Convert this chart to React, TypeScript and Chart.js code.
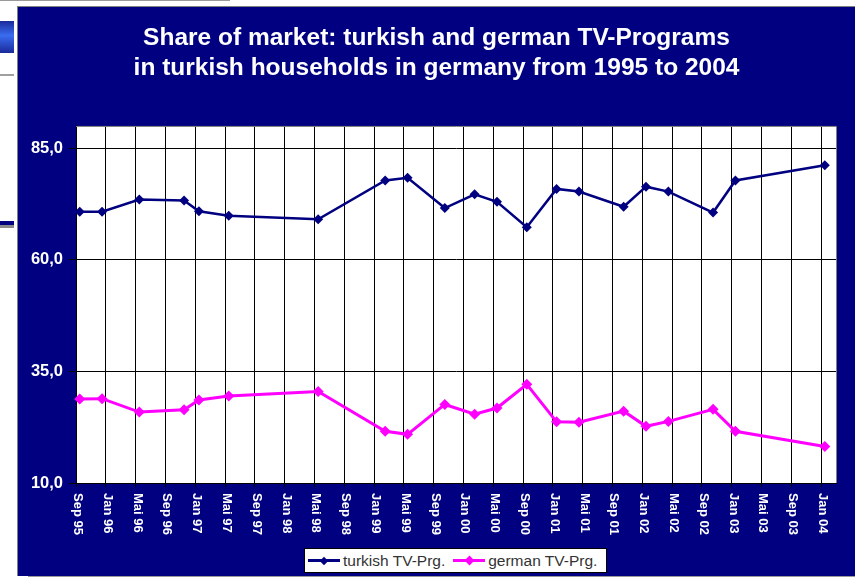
import React, { useEffect, useRef } from "react";
import { Chart, registerables } from "chart.js";

Chart.register(...registerables);

// ---- Data ----
const observationMonths = [
  "1995-09", "1995-12", "1996-05", "1996-11", "1997-01", "1997-05", "1998-05",
  "1999-02", "1999-05", "1999-10", "2000-02", "2000-05", "2000-09", "2001-01",
  "2001-04", "2001-10", "2002-01", "2002-04", "2002-10", "2003-01", "2004-01",
];
const turkishShare = [
  70.8, 70.8, 73.5, 73.3, 70.9, 69.9, 69.1, 77.8, 78.4, 71.6, 74.7, 73.0, 67.3,
  75.9, 75.3, 71.9, 76.4, 75.3, 70.6, 77.8, 81.2,
];
const germanShare = [
  28.8, 28.9, 25.9, 26.4, 28.6, 29.5, 30.5, 21.6, 20.9, 27.6, 25.4, 26.8, 32.1,
  23.7, 23.6, 26.1, 22.7, 23.8, 26.5, 21.6, 18.2,
];
const xTickLabels = [
  "Sep 95", "Jan 96", "Mai 96", "Sep 96", "Jan 97", "Mai 97", "Sep 97", "Jan 98",
  "Mai 98", "Sep 98", "Jan 99", "Mai 99", "Sep 99", "Jan 00", "Mai 00", "Sep 00",
  "Jan 01", "Mai 01", "Sep 01", "Jan 02", "Mai 02", "Sep 02", "Jan 03", "Mai 03",
  "Sep 03", "Jan 04",
];
const yTickValues = [10, 35, 60, 85];
const seriesNames = ["turkish TV-Prg.", "german TV-Prg."];
const titleLines = [
  "Share of market: turkish and german TV-Programs",
  "in turkish households in germany from 1995 to 2004",
];

// months since Sep 1995, placed at mid-month
const toMonthIndex = (s: string) => {
  const [y, m] = s.split("-").map(Number);
  return (y - 1995) * 12 + (m - 9) + 0.5;
};
const MONTHS_PER_TICK = 4;

const NAVY = "#000080";
const MAGENTA = "#FF00FF";
const FONT = "'Liberation Sans', Arial, sans-serif";

const plotBgPlugin = {
  id: "plotBg",
  beforeDraw(chart: any) {
    const { ctx, chartArea } = chart;
    ctx.save();
    ctx.fillStyle = "#ffffff";
    ctx.fillRect(chartArea.left, chartArea.top, chartArea.right - chartArea.left, chartArea.bottom - chartArea.top);
    ctx.restore();
  },
  beforeDatasetsDraw(chart: any) {
    const { ctx, chartArea } = chart;
    ctx.save();
    ctx.strokeStyle = "#808080";
    ctx.lineWidth = 1;
    ctx.beginPath();
    ctx.moveTo(chartArea.left, chartArea.top + 0.5);
    ctx.lineTo(chartArea.right + 0.5, chartArea.top + 0.5);
    ctx.lineTo(chartArea.right + 0.5, chartArea.bottom);
    ctx.stroke();
    ctx.restore();
  },
};

const xLabelPlugin = {
  id: "xLabels",
  afterDraw(chart: any) {
    const { ctx, chartArea } = chart;
    const xs = chart.scales.x;
    ctx.save();
    ctx.font = `bold 13px ${FONT}`;
    ctx.fillStyle = "#ffffff";
    ctx.textAlign = "left";
    ctx.textBaseline = "middle";
    xTickLabels.forEach((lab, i) => {
      const x = xs.getPixelForValue(i * MONTHS_PER_TICK);
      ctx.save();
      ctx.translate(x + 1.5, chartArea.bottom + 10);
      ctx.rotate(Math.PI / 2);
      ctx.fillText(lab, 0, 0);
      ctx.restore();
    });
    ctx.restore();
  },
};

function ChartCanvas() {
  const ref = useRef<HTMLCanvasElement | null>(null);
  useEffect(() => {
    if (!ref.current) return;
    const xs = observationMonths.map(toMonthIndex);
    const chart = new Chart(ref.current, {
      type: "line",
      data: {
        datasets: [
          {
            label: seriesNames[0],
            data: xs.map((x, i) => ({ x, y: turkishShare[i] })),
            borderColor: NAVY,
            backgroundColor: NAVY,
            borderWidth: 2.5,
            pointStyle: "rectRot",
            pointRadius: 5,
            pointBorderWidth: 0,
            tension: 0,
            clip: false as any,
          },
          {
            label: seriesNames[1],
            data: xs.map((x, i) => ({ x, y: germanShare[i] })),
            borderColor: MAGENTA,
            backgroundColor: MAGENTA,
            borderWidth: 3,
            pointStyle: "rectRot",
            pointRadius: 5.5,
            pointBorderWidth: 0,
            tension: 0,
            clip: false as any,
          },
        ],
      },
      options: {
        animation: false,
        responsive: false,
        layout: { padding: 0 },
        plugins: {
          legend: { display: false },
          tooltip: { enabled: false },
          title: {
            display: true,
            text: titleLines,
            color: "#ffffff",
            font: { family: FONT, size: 24.5, weight: "bold", lineHeight: 1.224 },
            padding: { top: 16.5, bottom: 42.5 },
          },
        },
        scales: {
          x: {
            type: "linear",
            min: 0,
            max: 102,
            afterBuildTicks(scale: any) {
              scale.ticks = xTickLabels.map((_, i) => ({ value: i * MONTHS_PER_TICK }));
            },
            afterFit(scale: any) {
              scale.height = 93;
            },
            ticks: { display: false },
            grid: { color: "#000000", lineWidth: 1, drawTicks: true, tickLength: 4 },
            border: { color: "#000000", width: 1 },
          },
          y: {
            type: "linear",
            position: "left",
            min: 10,
            max: 90,
            afterBuildTicks(scale: any) {
              scale.ticks = yTickValues.map((v) => ({ value: v }));
            },
            afterFit(scale: any) {
              scale.width = 58;
            },
            ticks: {
              color: "#ffffff",
              font: { family: FONT, size: 16.5, weight: "bold" },
              padding: 6,
              callback: (v: any) => Number(v).toFixed(1).replace(".", ","),
            },
            grid: { color: "#000000", lineWidth: 1, drawTicks: true, tickLength: 7 },
            border: { color: "#000000", width: 1 },
          },
          yRightSpace: {
            type: "linear",
            position: "right",
            min: 0,
            max: 1,
            afterFit(scale: any) {
              scale.width = 19;
            },
            ticks: { display: false },
            grid: { display: false, drawTicks: false },
            border: { display: false },
          },
        },
      },
      plugins: [plotBgPlugin, xLabelPlugin],
    });
    return () => chart.destroy();
  }, []);
  return <canvas ref={ref} width={837} height={569} style={{ display: "block", width: 837, height: 569 }} />;
}

function LegendSample({ color, size }: { color: string; size: number }) {
  return (
    <span style={{ position: "relative", display: "inline-block", width: 32, height: 3, background: color, verticalAlign: "middle" }}>
      <span
        style={{
          position: "absolute",
          left: 16 - size / 2,
          top: 1.5 - size / 2,
          width: size,
          height: size,
          background: color,
          transform: "rotate(45deg)",
        }}
      />
    </span>
  );
}

export default function App() {
  return (
    <div style={{ position: "absolute", left: 0, top: 0, width: 855, height: 577, background: "#ffffff", overflow: "hidden" }}>
      {/* surrounding slide fragments */}
      <div style={{ position: "absolute", left: 0, top: 0, width: 230, height: 1, background: "#9a9a9a" }} />
      <div style={{ position: "absolute", left: 0, top: 21, width: 14, height: 32, background: "linear-gradient(#1a2a9a, #3a6cf0 45%, #1a2a9a)" }} />
      <div style={{ position: "absolute", left: 0, top: 74, width: 14, height: 2, background: "#a0a0a0" }} />
      <div style={{ position: "absolute", left: 0, top: 221, width: 14, height: 4, background: NAVY }} />
      <div style={{ position: "absolute", left: 0, top: 225, width: 14, height: 3, background: "#8a8a8a" }} />
      {/* panel */}
      <div style={{ position: "absolute", left: 17, top: 6, width: 838, height: 570, background: "#808080" }} />
      <div style={{ position: "absolute", left: 28, top: 575, width: 827, height: 2, background: "#9a9a9a" }} />
      <div style={{ position: "absolute", left: 18, top: 7, width: 837, height: 569, background: NAVY }}>
        <ChartCanvas />
      </div>
      {/* legend */}
      <div
        style={{
          position: "absolute",
          left: 304,
          top: 548,
          width: 303,
          height: 25,
          boxSizing: "border-box",
          border: "1px solid #000",
          background: "#ffffff",
          display: "flex",
          alignItems: "center",
          fontFamily: FONT,
          fontSize: 15.5,
          color: "#333333",
          whiteSpace: "nowrap",
        }}
      >
        <span style={{ marginLeft: 3, display: "flex", alignItems: "center" }}>
          <LegendSample color={NAVY} size={6} />
        </span>
        <span style={{ marginLeft: 3 }}>{seriesNames[0]}</span>
        <span style={{ marginLeft: 8, display: "flex", alignItems: "center" }}>
          <LegendSample color={MAGENTA} size={7} />
        </span>
        <span style={{ marginLeft: 3 }}>{seriesNames[1]}</span>
      </div>
    </div>
  );
}
